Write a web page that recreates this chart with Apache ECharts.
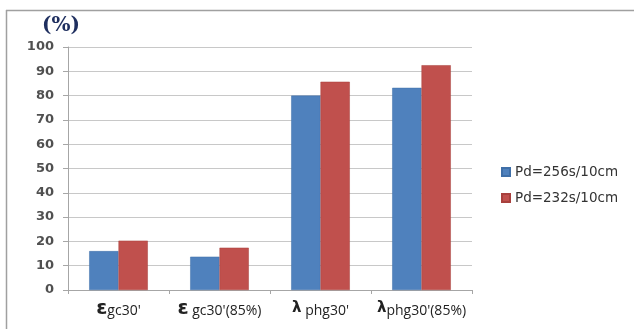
<!DOCTYPE html>
<html><head><meta charset="utf-8">
<script src="https://cdn.jsdelivr.net/npm/echarts@6/dist/echarts.min.js"></script>
<style>html,body{margin:0;padding:0;background:#fff}#c{width:634px;height:329px}</style>
</head><body><div id="c"></div>
<script>
const categories = ["eps1", "eps2", "lam1", "lam2"];
const categoryLabels = ["{g|ε}{s|gc30'}", "{g|ε}{s| gc30'(85%)}", "{l|λ}{s| phg30'}", "{l|λ}{s|phg30'(85%)}"];
const seriesNames = ["Pd=256s/10cm", "Pd=232s/10cm"];
const pd256 = [16, 13.7, 80, 83.2];
const pd232 = [20.3, 17.4, 85.7, 92.5];
const yTicks = [0, 10, 20, 30, 40, 50, 60, 70, 80, 90, 100];

const chart = echarts.init(document.getElementById('c'), null, {renderer: 'canvas'});
chart.setOption({
  animation: false,
  backgroundColor: '#fff',
  grid: {left: 68, right: 162, top: 47, bottom: 39, containLabel: false},
  graphic: [
    {type: 'line', shape: {x1: 6, y1: 10.5, x2: 634, y2: 10.5}, style: {stroke: '#a0a0a0', lineWidth: 1.5}},
    {type: 'line', shape: {x1: 6.5, y1: 10, x2: 6.5, y2: 329}, style: {stroke: '#a0a0a0', lineWidth: 1.5}},
    {type: 'text', left: 42, top: 16, style: {text: '(%)', font: 'bold 20px "DejaVu Serif", serif', fill: '#1f2f5f'}}
  ],
  legend: {
    orient: 'vertical', left: 496, top: 160, itemWidth: 8, itemHeight: 8, itemGap: 12,
    icon: 'rect',
    textStyle: {fontFamily: '"DejaVu Sans", sans-serif', fontSize: 13.5, color: '#333'},
    data: seriesNames
  },
  xAxis: {
    type: 'category', data: categories,
    axisLine: {lineStyle: {color: '#a6a6a6'}},
    axisTick: {show: true, length: 4, lineStyle: {color: '#a6a6a6'}},
    axisLabel: {
      margin: 9, interval: 0,
      formatter: (v, i) => categoryLabels[i],
      rich: {
        g: {fontFamily: '"DejaVu Sans", sans-serif', fontWeight: 'bold', fontSize: 20, color: '#222'},
        l: {fontFamily: '"DejaVu Sans", sans-serif', fontWeight: 'bold', fontSize: 15, color: '#222'},
        s: {fontFamily: '"Open Sans", sans-serif', fontSize: 14, color: '#222', padding: [5, 0, 0, 0]}
      }
    }
  },
  yAxis: {
    type: 'value', min: 0, max: 100, interval: 10,
    axisLine: {show: true, lineStyle: {color: '#a6a6a6'}},
    axisTick: {show: true, length: 5, lineStyle: {color: '#a6a6a6'}},
    splitLine: {lineStyle: {color: '#c8c8c8'}},
    axisLabel: {
      margin: 14, fontFamily: '"DejaVu Sans", sans-serif', fontSize: 13, fontWeight: 'bold', color: '#505050',
      formatter: v => yTicks.includes(v) ? String(v) : ''
    }
  },
  series: [
    {name: seriesNames[0], type: 'bar', data: pd256, barGap: '0%', barCategoryGap: '42%',
     itemStyle: {color: '#4f81bd', borderColor: '#3f6fa8', borderWidth: 0.5}},
    {name: seriesNames[1], type: 'bar', data: pd232, barGap: '0%', barCategoryGap: '42%',
     itemStyle: {color: '#c0504d', borderColor: '#a8403d', borderWidth: 0.5}}
  ]
});
</script></body></html>
